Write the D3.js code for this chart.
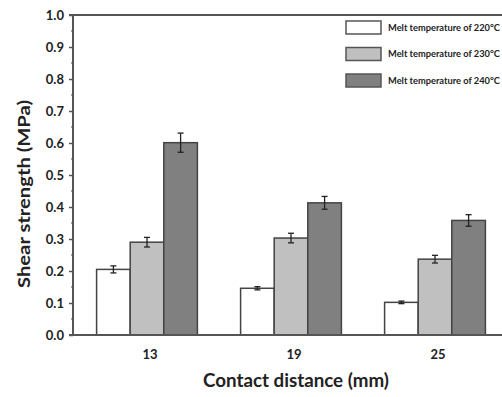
<!DOCTYPE html>
<html><head><meta charset="utf-8">
<script src="https://cdn.jsdelivr.net/npm/d3@7"></script>
<style>body{margin:0;background:#fff}svg{display:block}</style>
</head><body>
<svg id="c" width="502" height="397"></svg>
<script>
const categories = ["13", "19", "25"];
const seriesNames = ["Melt temperature of 220°C", "Melt temperature of 230°C", "Melt temperature of 240°C"];
const values220 = [0.205, 0.146, 0.102];
const values230 = [0.290, 0.303, 0.237];
const values240 = [0.601, 0.413, 0.358];
const err220 = [0.011, 0.005, 0.004];
const err230 = [0.015, 0.015, 0.012];
const err240 = [0.030, 0.020, 0.018];
const yTicks = [0, 0.1, 0.2, 0.3, 0.4, 0.5, 0.6, 0.7, 0.8, 0.9, 1.0];
const yMinorTicks = [0.05, 0.15, 0.25, 0.35, 0.45, 0.55, 0.65, 0.75, 0.85, 0.95];
const colors = ["#ffffff", "#c0c0c0", "#808080"];

const values = [values220, values230, values240];
const errs = [err220, err230, err240];

const svg = d3.select("#c");
const font = "Lato, 'Open Sans', sans-serif";
const axisColor = "#555";

const y = d3.scaleLinear().domain([0, 1]).range([335, 15]);
const x0 = d3.scaleBand().domain(categories).range([75, 507]).paddingInner(0.3).paddingOuter(0.15);
const x1 = d3.scaleBand().domain(d3.range(3)).range([0, x0.bandwidth()]);

// bars
categories.forEach((c, ci) => {
  const g = svg.append("g").attr("transform", `translate(${x0(c)},0)`);
  values.forEach((vals, si) => {
    g.append("rect")
      .attr("x", x1(si)).attr("width", x1.bandwidth())
      .attr("y", y(vals[ci])).attr("height", y(0) - y(vals[ci]))
      .attr("fill", colors[si]).attr("stroke", "#444").attr("stroke-width", 1.5);
  });
  values.forEach((vals, si) => {
    const cx = x1(si) + x1.bandwidth() / 2;
    const hi = y(vals[ci] + errs[si][ci]), lo = y(vals[ci] - errs[si][ci]);
    g.append("line").attr("x1", cx).attr("x2", cx).attr("y1", hi).attr("y2", lo).attr("stroke", "#222").attr("stroke-width", 1.3);
    [hi, lo].forEach(yy => g.append("line").attr("x1", cx - 3).attr("x2", cx + 3).attr("y1", yy).attr("y2", yy).attr("stroke", "#222").attr("stroke-width", 1.3));
  });
});

// y axis
const yAxis = svg.append("g").attr("transform", "translate(73,0)")
  .call(d3.axisLeft(y).tickValues(yTicks).tickFormat(d3.format(".1f")).tickSize(4).tickPadding(5));
yAxis.select(".domain").remove();
yAxis.selectAll(".tick line").attr("stroke", axisColor).attr("stroke-width", 1.5);
yAxis.selectAll(".tick text").attr("font-family", font).attr("font-weight", "bold").attr("font-size", 13).attr("fill", "#222");
svg.append("g").selectAll("line").data(yMinorTicks).join("line")
  .attr("x1", 71).attr("x2", 73).attr("y1", d => y(d)).attr("y2", d => y(d))
  .attr("stroke", axisColor).attr("stroke-width", 1.2);
svg.append("line").attr("x1", 73).attr("x2", 73).attr("y1", 15).attr("y2", 335).attr("stroke", axisColor).attr("stroke-width", 2);
// top and bottom frame lines
svg.append("line").attr("x1", 69).attr("x2", 502).attr("y1", y(1)).attr("y2", y(1)).attr("stroke", axisColor).attr("stroke-width", 2);
svg.append("line").attr("x1", 69).attr("x2", 502).attr("y1", y(0)).attr("y2", y(0)).attr("stroke", axisColor).attr("stroke-width", 2);

// x tick labels
const xAxis = svg.append("g").attr("transform", "translate(3,335)")
  .call(d3.axisBottom(x0).tickSize(0).tickPadding(15));
xAxis.select(".domain").remove();
xAxis.selectAll(".tick text").attr("font-family", font).attr("font-weight", "bold").attr("font-size", 13).attr("fill", "#222");

// axis titles
svg.append("text").attr("x", 296).attr("y", 387).attr("text-anchor", "middle")
  .attr("font-family", font).attr("font-weight", "bold").attr("font-size", 18).attr("fill", "#222")
  .attr("textLength", 186).attr("lengthAdjust", "spacingAndGlyphs")
  .text("Contact distance (mm)");
svg.append("text").attr("transform", "translate(30,194) rotate(-90)").attr("text-anchor", "middle")
  .attr("font-family", font).attr("font-weight", "bold").attr("font-size", 17).attr("fill", "#222")
  .attr("textLength", 188).attr("lengthAdjust", "spacingAndGlyphs")
  .text("Shear strength (MPa)");

// legend
const legend = svg.append("g");
seriesNames.forEach((name, i) => {
  const ly = 21 + i * 26.5;
  legend.append("rect").attr("x", 346).attr("y", ly).attr("width", 35).attr("height", 13)
    .attr("fill", colors[i]).attr("stroke", "#555").attr("stroke-width", 1.5);
  legend.append("text").attr("x", 388).attr("y", ly + 9.5)
    .attr("font-family", font).attr("font-weight", "bold").attr("font-size", 8.5).attr("fill", "#222")
    .attr("textLength", 112).attr("lengthAdjust", "spacingAndGlyphs")
    .text(name);
});
</script>
</body></html>
